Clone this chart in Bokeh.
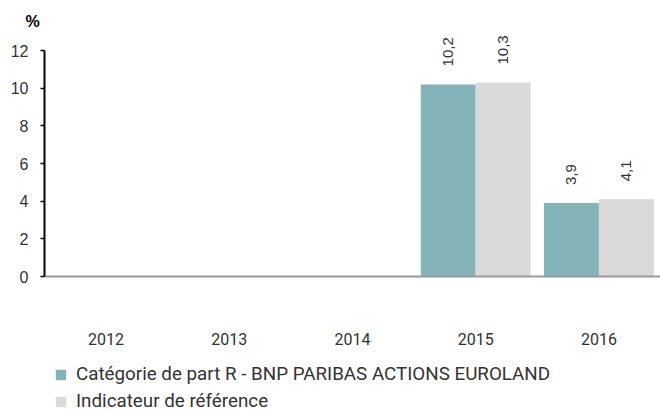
from bokeh.plotting import figure
from bokeh.models import ColumnDataSource, FactorRange, Range1d, Legend, LegendItem, FixedTicker, Title
from bokeh.transform import dodge
from bokeh.core.properties import value
from bokeh.embed import file_html
from bokeh.resources import INLINE
import math

years = ["2012", "2013", "2014", "2015", "2016"]
fund = [None, None, None, 10.2, 3.9]
bench = [None, None, None, 10.3, 4.1]
fund_labels = ["", "", "", "10,2", "3,9"]
bench_labels = ["", "", "", "10,3", "4,1"]
series_names = ["Catégorie de part R - BNP PARIBAS ACTIONS EUROLAND", "Indicateur de référence"]
yticks = [0, 2, 4, 6, 8, 10, 12]

teal = "#84B3B9"
grey = "#D9D9D9"
narrow = "Roboto"

src = ColumnDataSource(dict(
    years=years,
    fund=[v if v is not None else float("nan") for v in fund],
    bench=[v if v is not None else float("nan") for v in bench],
    fund_labels=fund_labels,
    bench_labels=bench_labels,
))

# frame spans y = 30 .. 412 px; 0 sits at 276 px, 12 at 50 px
p = figure(x_range=FactorRange(*years, range_padding=0), y_range=Range1d(-7.221, 13.062),
           width=660, height=412, output_backend="svg", toolbar_location=None,
           min_border_left=44, min_border_right=0, min_border_top=30, min_border_bottom=0)

p.title = Title(text="%", align="left", offset=-19, standoff=2, text_font_size="16px",
                text_font_style="bold", text_color="#000000", text_font="Liberation Sans")

bw = 0.446
r1 = p.vbar(x=dodge("years", -bw / 2, range=p.x_range), top="fund", width=bw, source=src,
            fill_color=teal, line_color=None)
r2 = p.vbar(x=dodge("years", bw / 2, range=p.x_range), top="bench", width=bw, source=src,
            fill_color=grey, line_color=None)

for col, off in (("fund_labels", -bw / 2), ("bench_labels", bw / 2)):
    p.text(x=dodge("years", off, range=p.x_range), y=col.replace("_labels", ""), text=col,
           source=src, angle=math.pi / 2, text_align="left", text_baseline="middle",
           y_offset=-18, text_font=value("Liberation Sans"), text_font_size="15px",
           text_color="#333333")

p.xgrid.visible = False
p.ygrid.visible = False
p.outline_line_color = None

p.yaxis.ticker = FixedTicker(ticks=yticks)
p.yaxis.bounds = (0, 12)
p.yaxis.axis_line_color = "#000000"
p.yaxis.axis_line_width = 2
p.yaxis.major_tick_line_color = "#000000"
p.yaxis.major_tick_line_width = 1.5
p.yaxis.major_tick_in = 0
p.yaxis.major_tick_out = 4
p.yaxis.minor_tick_line_color = None
p.yaxis.major_label_text_font = "Liberation Sans"
p.yaxis.major_label_text_font_size = "16px"
p.yaxis.major_label_text_color = "#333333"
p.yaxis.major_label_standoff = 12

p.xaxis.fixed_location = 0
p.xaxis.axis_line_color = "#999999"
p.xaxis.axis_line_width = 2
p.xaxis.major_tick_line_color = None
p.xaxis.minor_tick_line_color = None
p.xaxis.major_label_standoff = 50
p.xaxis.major_label_text_font = narrow
p.xaxis.major_label_text_font_size = "16px"
p.xaxis.major_label_text_color = "#333333"

legend = Legend(items=[LegendItem(label=series_names[0], renderers=[r1]),
                       LegendItem(label=series_names[1], renderers=[r2])],
                orientation="vertical", location=(10, 0),
                border_line_color=None, background_fill_alpha=0,
                label_text_font=narrow, label_text_font_size="18.8px",
                label_text_color="#333333", glyph_width=13, glyph_height=13,
                label_standoff=9, spacing=5, padding=0, margin=0,
                label_height=20)
p.add_layout(legend, "center")

open("out.html", "w").write(file_html(p, INLINE))
